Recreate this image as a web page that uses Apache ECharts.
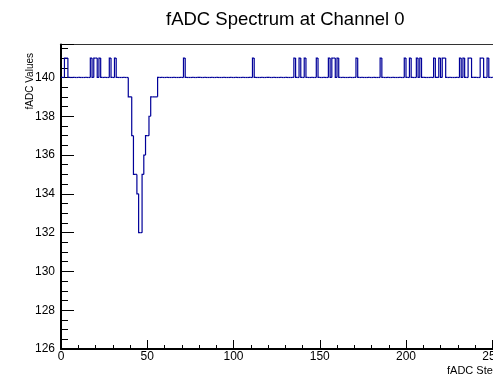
<!DOCTYPE html>
<html>
<head>
<meta charset="utf-8">
<script src="https://cdn.jsdelivr.net/npm/echarts@6/dist/echarts.min.js"></script>
<style>
html,body{margin:0;padding:0;background:#fff;}
#chart{width:493px;height:376px;}
</style>
</head>
<body>
<div id="chart"></div>
<script>
// ---- data ----
const titleText = 'fADC Spectrum at Channel 0';
const xTitle = 'fADC Steps';
const yTitle = 'fADC Values';
const nBins = 256;            // samples 0..255
const baselineValue = 140;    // flat pedestal level
// samples that sit one count above the pedestal
const spikeBins = [2, 3, 17, 19, 20, 22, 28, 31, 71, 111, 135, 138, 141, 148, 155, 157, 158, 160,
                   171, 185, 199, 202, 206, 208, 216, 219, 221, 222, 231, 233, 236, 237, 243, 244, 247];
const spikeValue = 141;
// the pulse (dip)
const dipBins   = [39, 40, 41, 42, 43, 44, 45, 46, 47, 48, 49, 50, 51, 52, 53, 54, 55];
const dipValues = [139, 139, 137, 135, 135, 134, 132, 132, 135, 136, 137, 137, 138, 139, 139, 139, 139];

// ---- build histogram contents ----
const contents = [];
for (let i = 0; i < nBins; i++) contents.push(baselineValue);
spikeBins.forEach(b => { contents[b] = spikeValue; });
dipBins.forEach((b, k) => { contents[b] = dipValues[k]; });
// each item: [bin low edge, content, previous bin content]
const items = contents.map((v, i) => [i, v, i > 0 ? contents[i - 1] : v]);

const lineColor = '#000099';
const chart = echarts.init(document.getElementById('chart'));
const font = '"Liberation Sans", Arial, Helvetica, sans-serif';
chart.setOption({
  animation: false,
  backgroundColor: '#ffffff',
  title: {
    text: titleText,
    left: 166, top: 10, padding: 0,
    textStyle: {fontFamily: font, fontSize: 18.5, fontWeight: 'normal', color: '#000'}
  },
  graphic: [
    {type: 'text', left: 447, top: 365, silent: true,
     style: {text: xTitle, fontFamily: font, fontSize: 11, fill: '#000'}},
    {type: 'text', x: 30, y: 53, rotation: Math.PI / 2, silent: true,
     style: {text: yTitle, fontFamily: font, fontSize: 10, fill: '#000', align: 'right', verticalAlign: 'middle'}}
  ],
  grid: {
    left: 61, top: 44.5, width: 441.6, bottom: 27,
    outerBoundsMode: 'none', containLabel: false,
    show: true, borderColor: '#333', borderWidth: 1, backgroundColor: 'transparent'
  },
  xAxis: {
    type: 'value', min: 0, max: nBins, interval: 50,
    axisLine: {show: true, lineStyle: {color: '#000', width: 2}},
    axisTick: {show: true, inside: true, length: 9, lineStyle: {color: '#000', width: 1}},
    minorTick: {show: true, splitNumber: 5, length: 4, lineStyle: {color: '#000', width: 1}},
    axisLabel: {fontFamily: font, fontSize: 12, color: '#000', margin: 2, showMaxLabel: false},
    splitLine: {show: false}, minorSplitLine: {show: false}
  },
  yAxis: {
    type: 'value', min: 126, max: 141.7, interval: 2,
    axisLine: {show: true, lineStyle: {color: '#000', width: 2}},
    axisTick: {show: true, inside: true, length: 13, lineStyle: {color: '#000', width: 1}},
    minorTick: {show: true, splitNumber: 4, length: 7, lineStyle: {color: '#000', width: 1}},
    axisLabel: {fontFamily: font, fontSize: 12, color: '#000', margin: 6, showMaxLabel: false},
    splitLine: {show: false}, minorSplitLine: {show: false}
  },
  series: [{
    type: 'custom',
    data: items,
    encode: {x: 0, y: 1},
    renderItem: function (params, api) {
      const lo = api.value(0), v = api.value(1), prev = api.value(2);
      const p0 = api.coord([lo, prev]);
      const p1 = api.coord([lo, v]);
      const p2 = api.coord([lo + 1, v]);
      return {
        type: 'polyline',
        shape: {points: [p0, p1, p2]},
        style: {stroke: lineColor, lineWidth: 1.2, fill: null}
      };
    }
  }]
});
</script>
</body>
</html>
